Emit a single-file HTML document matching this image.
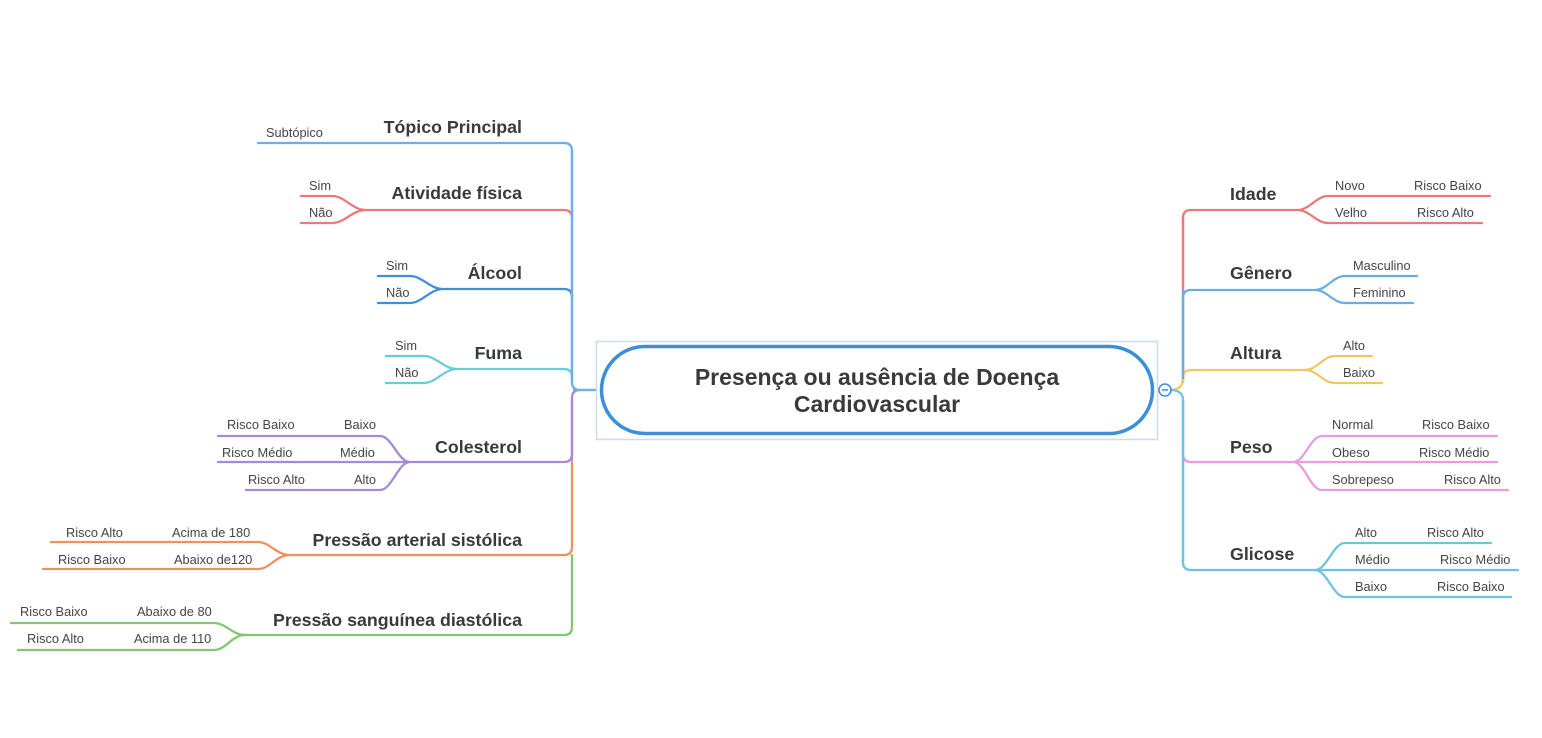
<!DOCTYPE html>
<html><head><meta charset="utf-8"><style>
body{margin:0;background:#fff;width:1542px;height:738px;overflow:hidden}
svg{display:block}
.t{font-family:"Liberation Sans",sans-serif;font-weight:bold;font-size:17.8px;fill:#3a3a3a}
.s{font-family:"Liberation Sans",sans-serif;font-size:12.8px;fill:#444}
.c{font-family:"Liberation Sans",sans-serif;font-weight:bold;font-size:23px;fill:#3a3a3a}
path{fill:none;stroke-width:2.3;stroke-linecap:round}
</style></head><body>
<svg width="1542" height="738" viewBox="0 0 1542 738">
<g>
<path stroke="#6cb0e6" d="M598,390 L580,390 Q572,390 572,382 L572,151 Q572,143 564,143 L258,143"/>
<path stroke="#e87a7a" d="M572,218 Q572,210 564,210 L366,210 C352,210 345,196 332,196 L301,196 M366,210 C352,210 345,223 332,223 L301,223"/>
<path stroke="#3d8fd6" d="M572,297 Q572,289 564,289 L443,289 C430,289 422,276 410,276 L378,276 M443,289 C430,289 422,303 410,303 L378,303"/>
<path stroke="#66cfd6" d="M572,377 Q572,369 564,369 L457,369 C444,369 436,356 424,356 L386,356 M457,369 C444,369 436,383 424,383 L386,383"/>
<path stroke="#a58ad8" d="M580,390 Q572,390 572,398 L572,454 Q572,462 564,462 L410,462 C398,462 392,436 380,436 L218,436 M410,462 L218,462 M410,462 C398,462 392,490 380,490 L246,490"/>
<path stroke="#ea9260" d="M572,462 L572,547 Q572,555 564,555 L290,555 C276,555 270,542 258,542 L51,542 M290,555 C276,555 270,569 258,569 L43,569"/>
<path stroke="#82c870" d="M572,555 L572,627 Q572,635 564,635 L245,635 C232,635 226,623 214,623 L11,623 M245,635 C232,635 226,650 214,650 L18,650"/>
<path stroke="#6cb0e6" stroke-width="3" d="M572,150 L572,382"/>
<path stroke="#a58ad8" stroke-width="3" d="M572,398 L572,460"/>
<path stroke="#6cb0e6" stroke-width="5" d="M574,390 L600,390"/>
</g>
<g>
<path stroke="#e87a7a" d="M1183,382 L1183,218 Q1183,210 1191,210 L1297,210 C1310,210 1316,196 1328,196 L1490,196 M1297,210 C1310,210 1316,223 1328,223 L1482,223"/>
<path stroke="#6aaee0" d="M1183,382 L1183,298 Q1183,290 1191,290 L1315,290 C1327,290 1333,276 1345,276 L1417,276 M1315,290 C1327,290 1333,303 1345,303 L1413,303"/>
<path stroke="#f0c862" d="M1170,390 Q1183,390 1183,378 Q1183,370 1191,370 L1305,370 C1317,370 1323,356 1335,356 L1372,356 M1305,370 C1317,370 1323,383 1335,383 L1382,383"/>
<path stroke="#e69ee0" d="M1183,400 L1183,454 Q1183,462 1191,462 L1293,462 C1305,462 1310,436 1322,436 L1497,436 M1293,462 L1497,462 M1293,462 C1305,462 1310,490 1322,490 L1508,490"/>
<path stroke="#6cc4de" d="M1170,390 Q1183,390 1183,400 L1183,562 Q1183,570 1191,570 L1315,570 C1327,570 1333,543 1345,543 L1491,543 M1315,570 L1518,570 M1315,570 C1327,570 1333,597 1345,597 L1511,597"/>
<path stroke="#e87a7a" stroke-width="3" d="M1183,218 L1183,290"/>
<path stroke="#6aaee0" stroke-width="3" d="M1183,290 L1183,378"/>
<path stroke="#6cc4de" stroke-width="3" d="M1183,400 L1183,562"/>
</g>
<rect x="596.5" y="341.5" width="561" height="98" fill="#fff" stroke="#c9dcf2" stroke-width="1.5"/>
<rect x="601.5" y="346.5" width="551" height="87" rx="43.5" fill="#fff" stroke="#3a8fd8" stroke-width="3.5"/>
<text class="c" x="877" y="385" text-anchor="middle">Presença ou ausência de Doença</text>
<text class="c" x="877" y="412" text-anchor="middle">Cardiovascular</text>
<circle cx="1165" cy="390" r="6" fill="#fff" stroke="#3a8fd8" stroke-width="1.5"/>
<line x1="1162" y1="390" x2="1168" y2="390" stroke="#3a8fd8" stroke-width="1.5"/>
<g class="t" text-anchor="end">
<text x="522" y="133">Tópico Principal</text>
<text x="522" y="199">Atividade física</text>
<text x="522" y="279">Álcool</text>
<text x="522" y="359">Fuma</text>
<text x="522" y="453">Colesterol</text>
<text x="522" y="546">Pressão arterial sistólica</text>
<text x="522" y="626">Pressão sanguínea diastólica</text>
</g>
<g class="s">
<text x="266" y="137">Subtópico</text>
<text x="309" y="190">Sim</text><text x="309" y="217">Não</text>
<text x="386" y="270">Sim</text><text x="386" y="297">Não</text>
<text x="395" y="350">Sim</text><text x="395" y="377">Não</text>
<text x="227" y="429">Risco Baixo</text><text x="344" y="429">Baixo</text>
<text x="222" y="457">Risco Médio</text><text x="340" y="457">Médio</text>
<text x="248" y="484">Risco Alto</text><text x="354" y="484">Alto</text>
<text x="66" y="537">Risco Alto</text><text x="172" y="537">Acima de 180</text>
<text x="58" y="564">Risco Baixo</text><text x="174" y="564">Abaixo de120</text>
<text x="20" y="616">Risco Baixo</text><text x="137" y="616">Abaixo de 80</text>
<text x="27" y="643">Risco Alto</text><text x="134" y="643">Acima de 110</text>
</g>
<g class="t">
<text x="1230" y="200">Idade</text>
<text x="1230" y="279">Gênero</text>
<text x="1230" y="359">Altura</text>
<text x="1230" y="453">Peso</text>
<text x="1230" y="560">Glicose</text>
</g>
<g class="s">
<text x="1335" y="190">Novo</text><text x="1414" y="190">Risco Baixo</text>
<text x="1335" y="217">Velho</text><text x="1417" y="217">Risco Alto</text>
<text x="1353" y="270">Masculino</text><text x="1353" y="297">Feminino</text>
<text x="1343" y="350">Alto</text><text x="1343" y="377">Baixo</text>
<text x="1332" y="429">Normal</text><text x="1422" y="429">Risco Baixo</text>
<text x="1332" y="457">Obeso</text><text x="1419" y="457">Risco Médio</text>
<text x="1332" y="484">Sobrepeso</text><text x="1444" y="484">Risco Alto</text>
<text x="1355" y="537">Alto</text><text x="1427" y="537">Risco Alto</text>
<text x="1355" y="564">Médio</text><text x="1440" y="564">Risco Médio</text>
<text x="1355" y="591">Baixo</text><text x="1437" y="591">Risco Baixo</text>
</g>
</svg>
</body></html>
